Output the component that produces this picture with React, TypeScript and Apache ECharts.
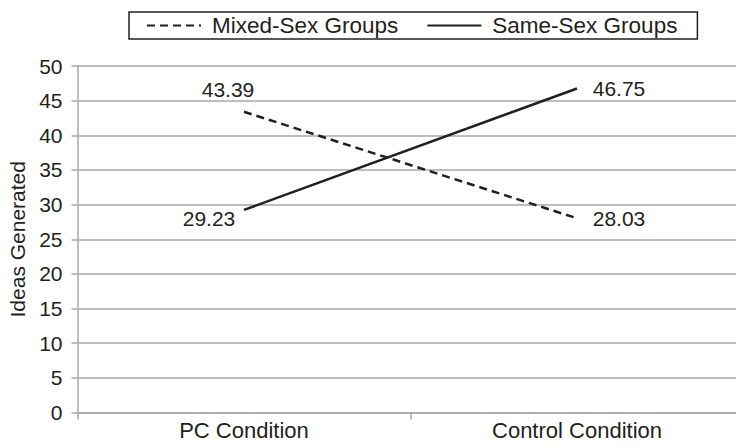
import React, { useEffect, useRef } from "react";
import * as echarts from "echarts";

const categories = ["PC Condition", "Control Condition"];
const mixedSex = [43.39, 28.03];
const sameSex = [29.23, 46.75];
const yTicks = { min: 0, max: 50, interval: 5 };
const seriesNames = ["Mixed-Sex Groups", "Same-Sex Groups"];

// label offsets (style only)
const mixedOffsets = [[-16, -22], [42, 0]];
const sameOffsets = [[-35, 9], [42, 0]];

const FONT = "Liberation Sans, Arial, Helvetica, sans-serif";
const TEXT = "#231f20";
const GRID = "#a9a9a9";

export default function App() {
  const ref = useRef<HTMLDivElement>(null);
  useEffect(() => {
    if (!ref.current) return;
    const chart = echarts.init(ref.current, undefined, { renderer: "svg" });
    const mkData = (vals: number[], offs: number[][]) =>
      vals.map((v, i) => ({
        value: v,
        label: { show: true, position: "inside", offset: offs[i], formatter: v.toFixed(2) },
      }));
    chart.setOption({
      animation: false,
      textStyle: { fontFamily: FONT, color: TEXT },
      legend: {
        left: 129,
        top: 12,
        padding: [2, 20, 2, 17],
        borderColor: TEXT,
        borderWidth: 1.5,
        itemWidth: 54,
        itemHeight: 14,
        itemGap: 28,
        itemStyle: { opacity: 0 },
        textStyle: { fontSize: 22.5, color: TEXT, fontFamily: FONT, padding: [0, 0, 0, 6] },
        data: seriesNames,
      },
      grid: {
        left: 77.5,
        right: -7.5,
        top: 66,
        bottom: 35.5,
        outerBoundsMode: "none",
      },
      xAxis: {
        type: "category",
        data: categories,
        boundaryGap: true,
        axisLine: { lineStyle: { color: GRID, width: 1.5 } },
        axisTick: { show: true, length: 7, lineStyle: { color: GRID, width: 1.5 } },
        axisLabel: { fontSize: 22, color: TEXT, margin: 7, fontFamily: FONT },
      },
      yAxis: {
        type: "value",
        min: yTicks.min,
        max: yTicks.max,
        interval: yTicks.interval,
        name: "Ideas Generated",
        nameLocation: "middle",
        nameGap: 50,
        nameTextStyle: { fontSize: 21, color: TEXT, fontFamily: FONT },
        axisLine: { show: true, lineStyle: { color: GRID, width: 1.5 } },
        axisTick: { show: true, length: 6, lineStyle: { color: GRID, width: 1.5 } },
        axisLabel: { fontSize: 21, color: TEXT, margin: 15, fontFamily: FONT },
        splitLine: { show: true, lineStyle: { color: GRID, width: 1.5 } },
      },
      series: [
        {
          name: seriesNames[0],
          type: "line",
          data: mkData(mixedSex, mixedOffsets),
          symbol: "circle",
          symbolSize: 0.1,
          lineStyle: { color: TEXT, width: 2.5, type: [8, 5] },
          itemStyle: { color: TEXT },
          label: { fontSize: 21, color: TEXT, fontFamily: FONT },
        },
        {
          name: seriesNames[1],
          type: "line",
          data: mkData(sameSex, sameOffsets),
          symbol: "circle",
          symbolSize: 0.1,
          lineStyle: { color: TEXT, width: 2.5, type: "solid" },
          itemStyle: { color: TEXT },
          label: { fontSize: 21, color: TEXT, fontFamily: FONT },
        },
      ],
    });
    return () => chart.dispose();
  }, []);
  return (
    <div
      ref={ref}
      style={{ position: "absolute", left: 0, top: 0, width: 736, height: 448, background: "#fff" }}
    />
  );
}
